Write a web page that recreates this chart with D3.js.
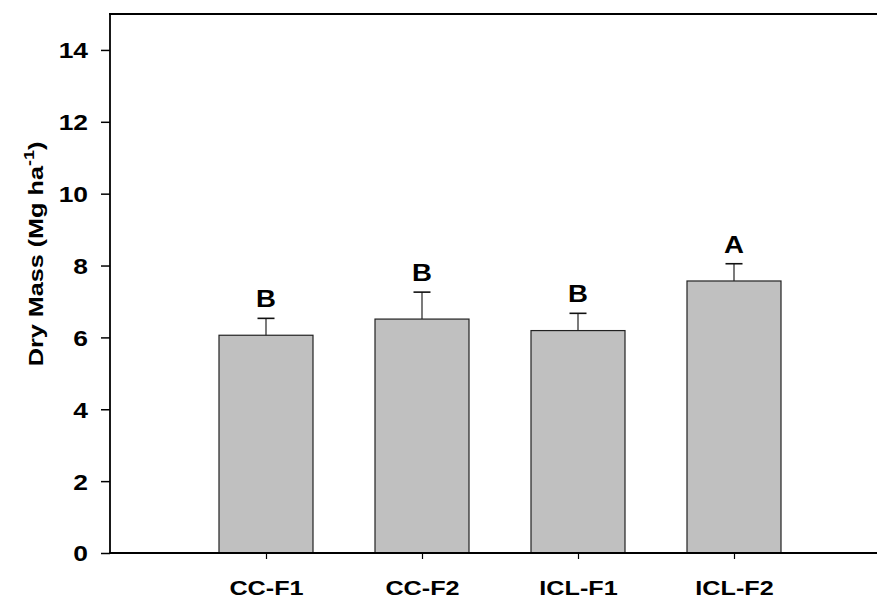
<!DOCTYPE html>
<html>
<head>
<meta charset="utf-8">
<script src="https://cdn.jsdelivr.net/npm/d3@7"></script>
<style>
  body { margin: 0; background: #fff; }
  text { font-family: "Liberation Sans", Arial, sans-serif; font-weight: bold; fill: #000; }
</style>
</head>
<body>
<div id="wrapper"></div>
<script>
// data
const treatments = ["CC-F1", "CC-F2", "ICL-F1", "ICL-F2"]
const dryMass = [6.06, 6.51, 6.19, 7.57]
const errors = [0.47, 0.75, 0.48, 0.48]
const letters = ["B", "B", "B", "A"]
const yTicks = [0, 2, 4, 6, 8, 10, 12, 14]

function drawChart() {
  const dimensions = {
    width: 877,
    height: 599,
    margin: { top: 14, right: 0, bottom: 46, left: 110 },
  }
  dimensions.boundedHeight = dimensions.height - dimensions.margin.top - dimensions.margin.bottom

  // the original's lettering is wider than Arial, stretch along the text
  const stretch = 1.2

  const svg = d3.select("#wrapper").append("svg")
    .attr("width", dimensions.width)
    .attr("height", dimensions.height)

  const bounds = svg.append("g")
    .attr("transform", `translate(${dimensions.margin.left},${dimensions.margin.top})`)

  // scales - categories sit at 1..4 on a 0..5 axis (right end is cropped)
  const step = 156
  const xScale = d3.scaleLinear().domain([0, 5]).range([0, step * 5])
  const yScale = d3.scaleLinear().domain([0, 15]).range([dimensions.boundedHeight, 0])
  const barWidth = 94

  // bars
  bounds.selectAll("rect.bar")
    .data(dryMass)
    .join("rect")
      .attr("class", "bar")
      .attr("x", (d, i) => xScale(i + 1) - barWidth / 2)
      .attr("y", d => yScale(d))
      .attr("width", barWidth)
      .attr("height", d => yScale(0) - yScale(d))
      .attr("fill", "#c0c0c0")
      .attr("stroke", "#222")
      .attr("stroke-width", 1.2)

  // error bars (upper only)
  const err = bounds.selectAll("g.err")
    .data(dryMass)
    .join("g")
      .attr("class", "err")
  err.append("line")
    .attr("x1", (d, i) => xScale(i + 1))
    .attr("x2", (d, i) => xScale(i + 1))
    .attr("y1", d => yScale(d))
    .attr("y2", (d, i) => yScale(d + errors[i]))
    .attr("stroke", "#222").attr("stroke-width", 1.2)
  err.append("line")
    .attr("x1", (d, i) => xScale(i + 1) - 8.5)
    .attr("x2", (d, i) => xScale(i + 1) + 8.5)
    .attr("y1", (d, i) => yScale(d + errors[i]))
    .attr("y2", (d, i) => yScale(d + errors[i]))
    .attr("stroke", "#111").attr("stroke-width", 1.6)

  // significance letters
  bounds.selectAll("text.letter")
    .data(dryMass)
    .join("text")
      .attr("class", "letter")
      .attr("transform", (d, i) => `translate(${xScale(i + 1)},${yScale(d + errors[i]) - 11}) scale(${stretch},1)`)
      .attr("text-anchor", "middle")
      .style("font-size", "23px")
      .text((d, i) => letters[i])

  // axes (ticks from d3, labels drawn stretched)
  const yAxis = d3.axisLeft(yScale)
    .tickValues(yTicks)
    .tickSize(9)
    .tickFormat("")
    .tickSizeOuter(0)
  const yAxisG = bounds.append("g").call(yAxis)
  yAxisG.select(".domain").remove()
  yAxisG.selectAll(".tick line").attr("stroke", "#000").attr("stroke-width", 1.5)
  yAxisG.selectAll(".tick")
    .append("text")
      .attr("transform", `translate(-22,0) scale(${stretch},1)`)
      .attr("dy", "0.36em")
      .attr("text-anchor", "end")
      .attr("fill", "#000")
      .style("font-size", "22px")
      .text(d => d)

  const xAxis = d3.axisBottom(xScale)
    .tickValues(treatments.map((d, i) => i + 1))
    .tickFormat("")
    .tickSize(6)
    .tickSizeOuter(0)
  const xAxisG = bounds.append("g")
    .attr("transform", `translate(0,${dimensions.boundedHeight})`)
    .call(xAxis)
  xAxisG.select(".domain").remove()
  xAxisG.selectAll(".tick line").attr("stroke", "#000").attr("stroke-width", 1.2)
  xAxisG.selectAll(".tick")
    .append("text")
      .attr("transform", `translate(0,42) scale(${stretch},1)`)
      .attr("text-anchor", "middle")
      .attr("fill", "#000")
      .style("font-size", "21px")
      .text(d => treatments[d - 1])

  // frame lines
  bounds.append("line")
    .attr("x1", 0).attr("x2", 0)
    .attr("y1", 0).attr("y2", dimensions.boundedHeight)
    .attr("stroke", "#000").attr("stroke-width", 1.8)
  bounds.append("line")
    .attr("x1", -1).attr("x2", xScale(5))
    .attr("y1", 0).attr("y2", 0)
    .attr("stroke", "#000").attr("stroke-width", 2.2)
  bounds.append("line")
    .attr("x1", -1).attr("x2", xScale(5))
    .attr("y1", dimensions.boundedHeight).attr("y2", dimensions.boundedHeight)
    .attr("stroke", "#000").attr("stroke-width", 2.2)

  // y label
  const yLabel = svg.append("text")
    .attr("transform", `translate(43,254) rotate(-90) scale(${stretch},1)`)
    .attr("text-anchor", "middle")
    .style("font-size", "21px")
  yLabel.append("tspan").text("Dry Mass (Mg ha")
  yLabel.append("tspan").attr("dy", -9).style("font-size", "15px").text("-1")
  yLabel.append("tspan").attr("dy", 9).text(")")
}

drawChart()
</script>
</body>
</html>
